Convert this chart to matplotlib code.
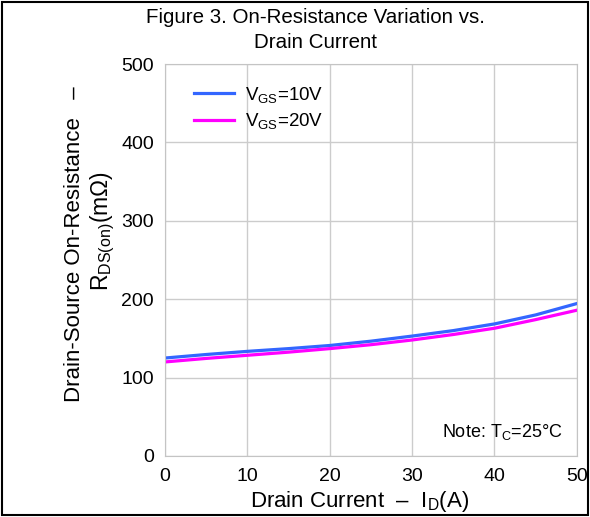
import matplotlib
matplotlib.use("Agg")
import matplotlib.pyplot as plt
from matplotlib.patches import Rectangle

plt.rcParams['font.family'] = ['Liberation Sans', 'DejaVu Sans']
plt.rcParams['mathtext.fontset'] = 'custom'
plt.rcParams['mathtext.rm'] = 'Liberation Sans'

# Data
current = [0, 5, 10, 15, 20, 25, 30, 35, 40, 45, 50]
r_vgs10 = [125, 129.5, 133.5, 137, 141, 146.5, 153, 160, 168.5, 180, 194.5]
r_vgs20 = [120, 124.5, 128.5, 132.5, 137, 142, 148, 155, 163, 174, 186]
x_ticks = [0, 10, 20, 30, 40, 50]
y_ticks = [0, 100, 200, 300, 400, 500]

fig = plt.figure(figsize=(5.9, 5.17), dpi=100)
ax = fig.add_axes([0.2797, 0.118, 0.698, 0.758])

ax.plot(current, r_vgs10, color='#3366FF', lw=2.3, label=r'V$\mathregular{_{GS}}$=10V')
ax.plot(current, r_vgs20, color='#FF00FF', lw=2.3, label=r'V$\mathregular{_{GS}}$=20V')

ax.set_xlim(0, 50)
ax.set_ylim(0, 500)
ax.set_xticks(x_ticks)
ax.set_yticks(y_ticks)
ax.tick_params(length=0, labelsize=14, pad=8)
ax.tick_params(axis='x', pad=9)
ax.grid(True, color='#CCCCCC', lw=1)
ax.set_axisbelow(True)
for side in ax.spines:
    ax.spines[side].set_color('#C4C4C4')

fig.text(0.534, 1 - 30 / 517, 'Figure 3. On-Resistance Variation vs.\nDrain Current',
         ha='center', va='center', fontsize=14.8, linespacing=1.45)

# axis titles placed by hand (pixel centres)
fig.text(360 / 590, 1 - 502 / 517, r'Drain Current  –  I$\mathregular{_D}$(A)',
         ha='center', va='center', fontsize=16)
fig.text(75 / 590, 1 - 244 / 517, 'Drain-Source On-Resistance   –',
         ha='center', va='center', rotation=90, fontsize=16)
fig.text(103 / 590, 1 - 231 / 517, r'R$\mathregular{_{DS(on)}}$(m$\mathregular{\Omega}$)',
         ha='center', va='center', rotation=90, fontsize=16.5)

ax.legend(loc='upper left', bbox_to_anchor=(0.03, 0.99), frameon=False, fontsize=13.5,
          handlelength=2.1, handletextpad=0.6, labelspacing=0.35)

ax.text(0.965, 0.035, r'Note: T$\mathregular{_C}$=25°C', transform=ax.transAxes,
        ha='right', va='bottom', fontsize=13)

fig.patches.append(Rectangle((0.004, 0.003), 0.992, 0.994, transform=fig.transFigure,
                             fill=False, edgecolor='black', lw=1.5))

fig.savefig('out.png', dpi=100)
